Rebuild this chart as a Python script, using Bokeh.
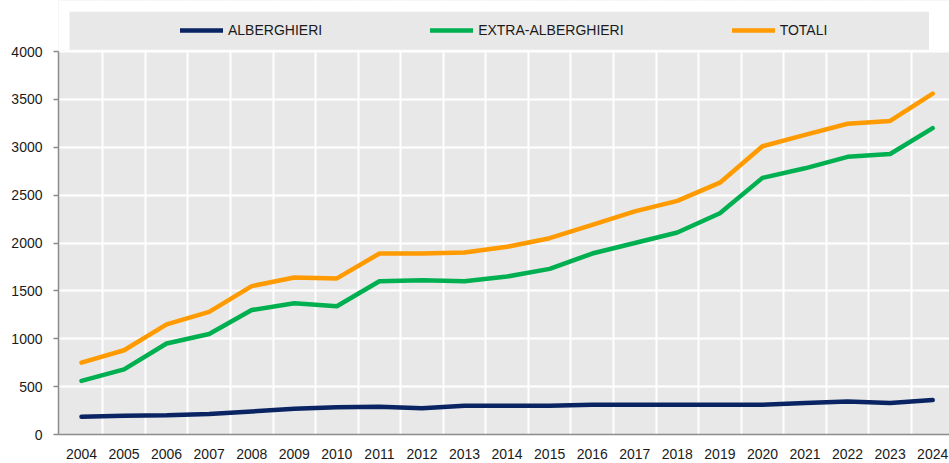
from bokeh.plotting import figure
from bokeh.models import (Legend, LegendItem, FixedTicker, BoxAnnotation,
                          ColumnDataSource, Range1d)
from bokeh.embed import file_html
from bokeh.resources import INLINE

years = [2004, 2005, 2006, 2007, 2008, 2009, 2010, 2011, 2012, 2013, 2014,
         2015, 2016, 2017, 2018, 2019, 2020, 2021, 2022, 2023, 2024]
alberghieri = [185, 195, 200, 215, 240, 270, 285, 290, 275, 300, 300,
               300, 310, 310, 310, 310, 310, 330, 345, 330, 360]
extra_alberghieri = [560, 680, 950, 1050, 1300, 1370, 1340, 1600, 1610, 1600, 1650,
                     1730, 1890, 2000, 2110, 2310, 2680, 2780, 2900, 2930, 3200]
totali = [750, 880, 1150, 1280, 1550, 1640, 1630, 1890, 1890, 1900, 1960,
          2050, 2190, 2330, 2440, 2630, 3010, 3130, 3245, 3275, 3560]
series_names = ["ALBERGHIERI", "EXTRA-ALBERGHIERI", "TOTALI"]
y_ticks = [0, 500, 1000, 1500, 2000, 2500, 3000, 3500, 4000]

colors = ["#0A2463", "#00B050", "#FF9B00"]
FONT = "Liberation Sans"
TXT = "#1A1A1A"
BG = "#E8E8E8"

W, H = 949, 463
LEFT, BOTTOM = 58, 29
frame_h = H - BOTTOM                      # frame spans the full top area
ymax = y_ticks[-1]
y_top = ymax * frame_h / 383.0            # 4000 sits 383 px above the x axis

src = ColumnDataSource(dict(year=years, alb=alberghieri, extra=extra_alberghieri, tot=totali))

p = figure(width=W, height=H, output_backend="svg", toolbar_location=None,
           x_range=Range1d(years[0] - 0.54, years[-1] + 0.395),
           y_range=Range1d(y_ticks[0], y_top),
           min_border_left=LEFT, min_border_right=0, min_border_top=0, min_border_bottom=BOTTOM,
           background_fill_color=BG, border_fill_color="white", outline_line_color=None)

renderers = []
for col, c in zip(["alb", "extra", "tot"], colors):
    r = p.line("year", col, source=src, line_color=c, line_width=4.5,
               line_cap="round", line_join="round")
    renderers.append(r)

# axes
p.xaxis.ticker = FixedTicker(ticks=years)
p.yaxis.ticker = FixedTicker(ticks=y_ticks)
p.yaxis.bounds = (y_ticks[0], ymax)
for ax in (p.xaxis[0], p.yaxis[0]):
    ax.axis_line_color = "#8C8C8C"
    ax.axis_line_width = 1.5
    ax.major_tick_line_color = "#8C8C8C"
    ax.major_tick_line_width = 1.5
    ax.minor_tick_line_color = None
    ax.major_label_text_font = FONT
    ax.major_label_text_font_size = "14px"
    ax.major_label_text_color = TXT
p.xaxis.major_tick_in = 0
p.xaxis.major_tick_out = 0
p.xaxis.major_label_standoff = 14
p.yaxis.major_tick_in = 0
p.yaxis.major_tick_out = 5
p.yaxis.major_label_standoff = 11

# grid
p.xgrid.ticker = FixedTicker(ticks=[y + 0.5 for y in years[:-1]])
p.xgrid.grid_line_color = "white"
p.xgrid.grid_line_width = 2
p.ygrid.grid_line_color = "white"
p.ygrid.grid_line_width = 2

# white band above the plotting area (hides grid lines there)
top_band = BoxAnnotation(bottom=ymax + 8, fill_color="white", fill_alpha=1,
                         line_color=None, level="annotation")
p.add_layout(top_band)

# grey legend panel
legend_box = BoxAnnotation(left=years[0] - 0.282, right=years[-1] - 0.086,
                           bottom=ymax + 18, top=ymax + 415,
                           fill_color=BG, fill_alpha=1, line_color=None, level="annotation")
p.add_layout(legend_box)

legend = Legend(items=[LegendItem(label=n, renderers=[r]) for n, r in zip(series_names, renderers)],
                orientation="horizontal", location=(122, 394.5), spacing=108,
                glyph_width=43, glyph_height=20, label_height=20, label_standoff=5,
                padding=0, margin=0, background_fill_alpha=0, border_line_color=None,
                label_text_font=FONT, label_text_font_size="14px", label_text_color=TXT)
p.add_layout(legend, "center")

open("out.html", "w").write(file_html(p, INLINE))
